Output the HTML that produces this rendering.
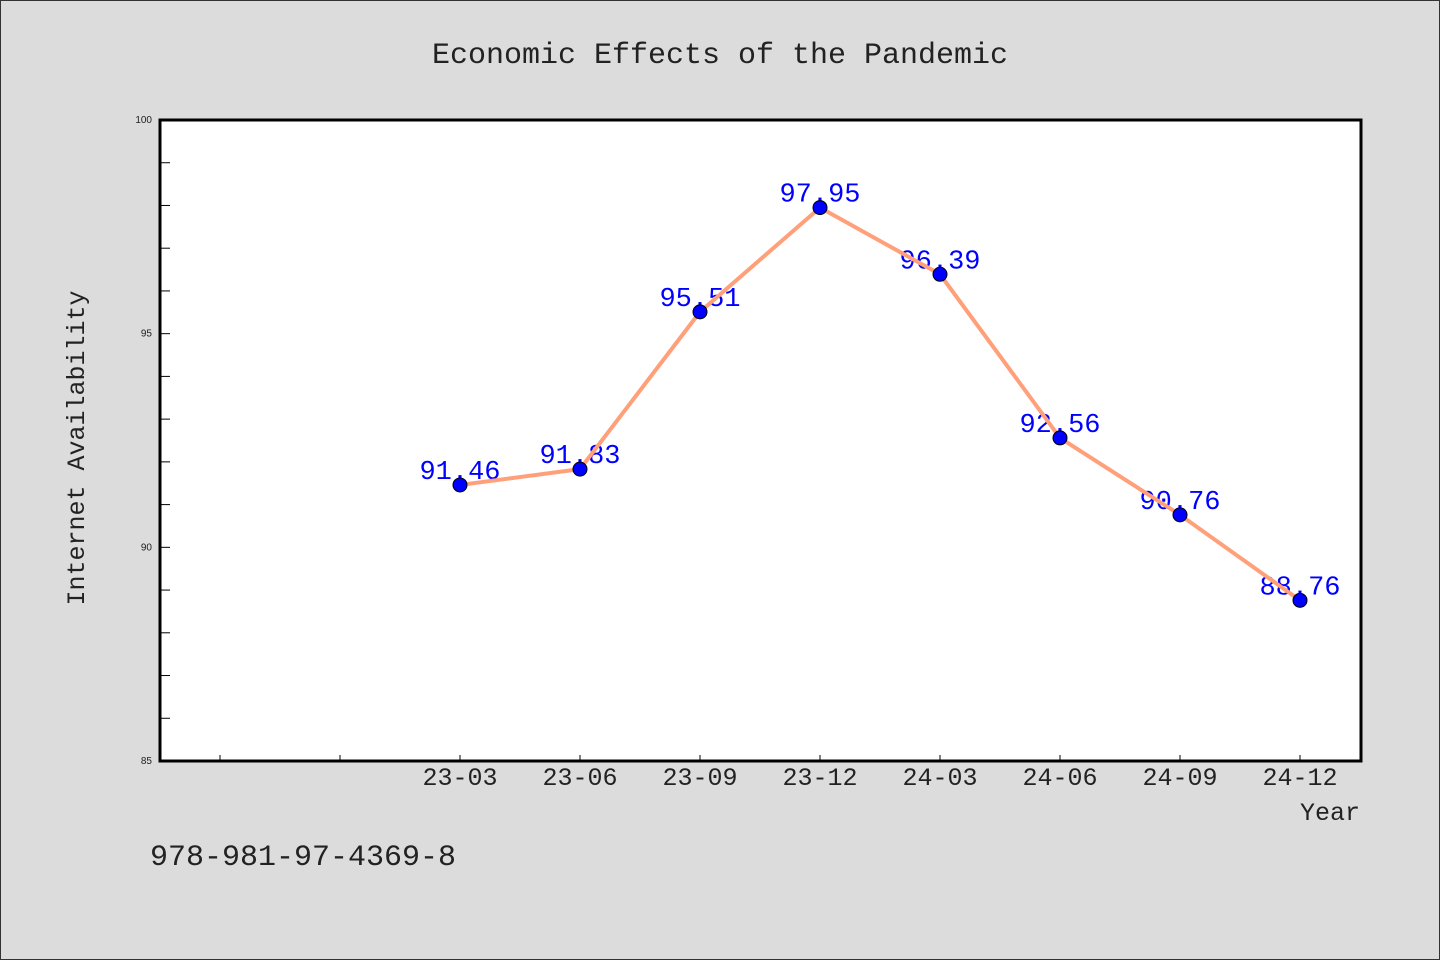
<!DOCTYPE html>
<html><head><meta charset="utf-8"><style>
html,body{margin:0;padding:0;background:#dcdcdc;}
svg{display:block;font-family:"WenQuanYi Zen Hei Mono","WenQuanYi Zen Hei","Liberation Mono",monospace;}
</style></head><body>
<svg id="chart" width="1440" height="960" xmlns="http://www.w3.org/2000/svg">
<rect x="0.5" y="0.5" width="1439" height="959" fill="#dcdcdc" stroke="#333"/>
<text x="720" y="63" text-anchor="middle" font-size="30" fill="#222">Economic Effects of the Pandemic</text>
<rect x="160" y="120" width="1201" height="641" fill="#fff"/>
<g id="yaxis"></g>
<g id="xaxis"></g>
<g id="labels"></g>
<g id="series"></g>
<rect x="160" y="120" width="1201" height="641" fill="none" stroke="#000" stroke-width="3"/>
<text transform="translate(84,448) rotate(-90)" text-anchor="middle" font-size="25" fill="#222">Internet Availability</text>
<text x="1360" y="820" text-anchor="end" font-size="25" fill="#222">Year</text>
<text x="150" y="865" font-size="30" fill="#222">978-981-97-4369-8</text>
</svg>
<script>
const categories = ["23-03","23-06","23-09","23-12","24-03","24-06","24-09","24-12"];
const values = [91.46,91.83,95.51,97.95,96.39,92.56,90.76,88.76];
const yTickLabels = [85,90,95,100];
const NS="http://www.w3.org/2000/svg";
const yMin=85,yMax=100,plotTop=120,plotBottom=761;
function yScale(v){return plotBottom-(v-yMin)/(yMax-yMin)*(plotBottom-plotTop);}
function xScale(i){return 160+(i+2.5)*120;}
function mk(tag,attrs,parent,text){const e=document.createElementNS(NS,tag);for(const k in attrs)e.setAttribute(k,attrs[k]);if(text!==undefined)e.textContent=text;parent.appendChild(e);return e;}
const ya=document.getElementById('yaxis');
for(let v=yMin+1;v<yMax;v++){
  const t=mk('line',{x1:160,x2:170,y1:yScale(v),y2:yScale(v),stroke:'#000','stroke-width':1},ya);
  
  
}
yTickLabels.forEach(v=>{
  const t=mk('text',{x:152,y:yScale(v)+3,'text-anchor':'end','font-size':10,fill:'#222','font-family':'"Liberation Sans",sans-serif'},ya,String(v));
  
  
});
const xa=document.getElementById('xaxis');
for(let i=-2;i<categories.length;i++){
  const t=mk('line',{x1:xScale(i),x2:xScale(i),y1:761,y2:755,stroke:'#000','stroke-width':1},xa);
  
  
}
categories.forEach((c,i)=>{
  const t=mk('text',{x:xScale(i),y:785,'text-anchor':'middle','font-size':25,fill:'#222'},xa,c);
  
  
});
const lb=document.getElementById('labels');
values.forEach((v,i)=>{
  const t=mk('text',{x:xScale(i),y:yScale(v)-6,'text-anchor':'middle','font-size':27,fill:'#0000ff'},lb,v.toFixed(2));
  
  
});
const sr=document.getElementById('series');
const pl=mk('polyline',{points:values.map((v,i)=>xScale(i)+','+yScale(v)).join(' '),fill:'none',stroke:'#ffa07a','stroke-width':4,'stroke-linejoin':'round'},sr);


values.forEach((v,i)=>{
  const c=mk('circle',{cx:xScale(i),cy:yScale(v),r:7,fill:'#0000ff',stroke:'#000','stroke-width':1},sr);
  
  
});
</script>
</body></html>
